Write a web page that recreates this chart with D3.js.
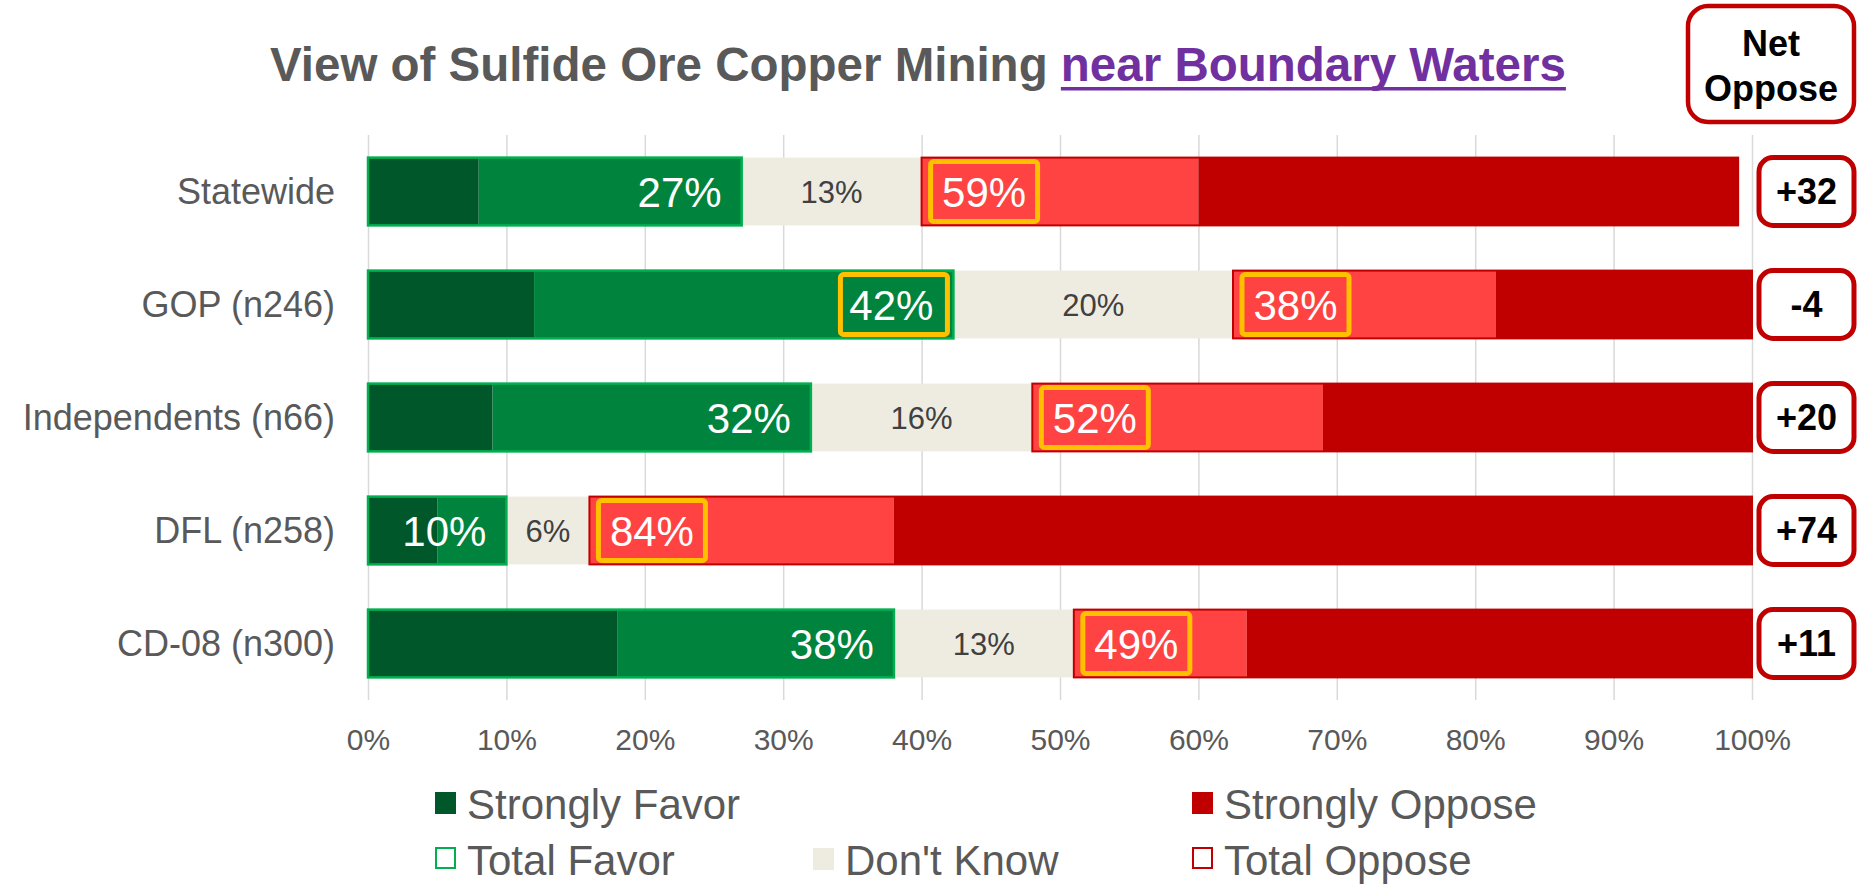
<!DOCTYPE html>
<html>
<head>
<meta charset="utf-8">
<script src="https://cdn.jsdelivr.net/npm/d3@7"></script>
<style>
  html, body { margin: 0; padding: 0; background: #fff; }
  svg { display: block; font-family: "Liberation Sans", Arial, sans-serif; }
</style>
</head>
<body>
<svg id="chart" width="1858" height="885"></svg>
<script>
// ---------------- DATA ----------------
const categories = ["Statewide", "GOP (n246)", "Independents (n66)", "DFL (n258)", "CD-08 (n300)"];
const stronglyFavor  = [8, 12, 9, 5, 18];
const somewhatFavor  = [19, 30.3, 23, 5, 20];
const dontKnow       = [13, 20.2, 16, 6, 13];
const somewhatOppose = [20, 19, 21, 22, 12.5];
const stronglyOppose = [39, 18.5, 31, 62, 36.5];
const highlightFavor  = [false, true, false, false, false];
const highlightOppose = [true, true, true, true, true];
const tickValues = [0, 10, 20, 30, 40, 50, 60, 70, 80, 90, 100];
const legendLabels = ["Strongly Favor", "Strongly Oppose", "Total Favor", "Don't Know", "Total Oppose"];
const titleMain = "View of Sulfide Ore Copper Mining ";
const titleLink = "near Boundary Waters";
const netHeader = ["Net", "Oppose"];

// ---------------- STYLE ----------------
const C = {
  sf: "#00582A", smf: "#00843D", favLine: "#00B050",
  dk: "#EEECE1", smo: "#FF4343", so: "#C00000", oppLine: "#C00000",
  grid: "#D9D9D9", text: "#595959", dkText: "#404040", yellow: "#FFC000",
  purple: "#7030A0"
};

const svg = d3.select("#chart");
const x = d3.scaleLinear().domain([0, 100]).range([368, 1752]);
const y = d3.scaleBand().domain(categories).range([135, 700]).paddingInner(0.4).paddingOuter(0.2);
const bw = y.bandwidth();

// rows
const rows = categories.map((c, i) => {
  const sf = stronglyFavor[i], smf = somewhatFavor[i], dk = dontKnow[i], smo = somewhatOppose[i], so = stronglyOppose[i];
  return {
    cat: c, i,
    segs: [
      {k: "sf", x0: 0, x1: sf},
      {k: "smf", x0: sf, x1: sf + smf},
      {k: "dk", x0: sf + smf, x1: sf + smf + dk},
      {k: "smo", x0: sf + smf + dk, x1: sf + smf + dk + smo},
      {k: "so", x0: sf + smf + dk + smo, x1: sf + smf + dk + smo + so}
    ],
    fav: sf + smf, dk, oppStart: sf + smf + dk, opp: smo + so
  };
});

// gridlines
svg.append("g")
  .attr("transform", "translate(0,700)")
  .call(d3.axisBottom(x).tickValues(tickValues).tickSize(-565).tickFormat(""))
  .call(g => g.select(".domain").remove())
  .call(g => g.selectAll("line").attr("stroke", C.grid).attr("stroke-width", 1.5));

// axis labels
svg.append("g")
  .attr("transform", "translate(0,700)")
  .call(d3.axisBottom(x).tickValues(tickValues).tickSize(0).tickPadding(29).tickFormat(d => d + "%"))
  .call(g => g.select(".domain").remove())
  .call(g => g.selectAll("text").attr("fill", C.text).style("font-size", "30px")
      .style("font-family", "'Liberation Sans', Arial, sans-serif"));

// category labels
svg.append("g").selectAll("text").data(rows).join("text")
  .attr("x", 335).attr("y", d => y(d.cat) + bw / 2).attr("dy", "0.36em")
  .attr("text-anchor", "end").attr("fill", C.text).style("font-size", "36px")
  .text(d => d.cat);

// segments
const colorMap = {sf: C.sf, smf: C.smf, dk: C.dk, smo: C.smo, so: C.so};
const rowG = svg.append("g").selectAll("g").data(rows).join("g");
rowG.selectAll("rect.seg").data(d => d.segs.map(s => ({...s, cat: d.cat}))).join("rect")
  .attr("class", "seg")
  .attr("x", s => x(s.x0)).attr("width", s => x(s.x1) - x(s.x0))
  .attr("y", s => y(s.cat)).attr("height", bw)
  .attr("fill", s => colorMap[s.k]);

// total favor outline
rowG.append("rect")
  .attr("x", d => x(0)).attr("width", d => x(d.fav) - x(0))
  .attr("y", d => y(d.cat)).attr("height", bw)
  .attr("fill", "none").attr("stroke", C.favLine).attr("stroke-width", 2.5);
// total oppose outline
rowG.append("rect")
  .attr("x", d => x(d.oppStart)).attr("width", d => x(d.oppStart + d.opp) - x(d.oppStart))
  .attr("y", d => y(d.cat)).attr("height", bw)
  .attr("fill", "none").attr("stroke", C.oppLine).attr("stroke-width", 2);

// favor highlight boxes
rowG.filter(d => highlightFavor[d.i]).append("rect")
  .attr("x", d => x(d.fav) - 6 - 107).attr("width", 107)
  .attr("y", d => y(d.cat) + 4).attr("height", bw - 8)
  .attr("rx", 3).attr("fill", "none").attr("stroke", C.yellow).attr("stroke-width", 5);
// favor labels
rowG.append("text")
  .attr("x", d => x(d.fav) - 20).attr("y", d => y(d.cat) + bw / 2).attr("dy", "0.36em")
  .attr("text-anchor", "end").attr("fill", "#fff").style("font-size", "42px")
  .text(d => Math.round(d.fav) + "%");

// don't know labels
rowG.append("text")
  .attr("x", d => x(d.fav + d.dk / 2)).attr("y", d => y(d.cat) + bw / 2).attr("dy", "0.36em")
  .attr("text-anchor", "middle").attr("fill", C.dkText).style("font-size", "31px")
  .text(d => Math.round(d.dk) + "%");

// oppose highlight boxes + labels
rowG.filter(d => highlightOppose[d.i]).append("rect")
  .attr("x", d => x(d.oppStart) + 9).attr("width", 107)
  .attr("y", d => y(d.cat) + 4).attr("height", bw - 8)
  .attr("rx", 3).attr("fill", "none").attr("stroke", C.yellow).attr("stroke-width", 5);
rowG.append("text")
  .attr("x", d => x(d.oppStart) + 9 + 53.5).attr("y", d => y(d.cat) + bw / 2).attr("dy", "0.36em")
  .attr("text-anchor", "middle").attr("fill", "#fff").style("font-size", "42px")
  .text(d => Math.round(d.opp) + "%");

// net oppose boxes
const netG = svg.append("g").selectAll("g").data(rows).join("g");
netG.append("rect")
  .attr("x", 1759).attr("width", 95)
  .attr("y", d => y(d.cat)).attr("height", bw)
  .attr("rx", 14).attr("fill", "#fff").attr("stroke", C.so).attr("stroke-width", 5);
netG.append("text")
  .attr("x", 1806.5).attr("y", d => y(d.cat) + bw / 2).attr("dy", "0.36em")
  .attr("text-anchor", "middle").attr("fill", "#000").style("font-size", "36px").style("font-weight", "bold")
  .text(d => {
    const n = Math.round(d.opp) - Math.round(d.fav);
    return (n > 0 ? "+" : "") + n;
  });

// header box
svg.append("rect").attr("x", 1688).attr("y", 6).attr("width", 166).attr("height", 116)
  .attr("rx", 20).attr("fill", "#fff").attr("stroke", C.so).attr("stroke-width", 4.5);
svg.append("g").selectAll("text").data(netHeader).join("text")
  .attr("x", 1771).attr("y", (d, i) => 56 + i * 45)
  .attr("text-anchor", "middle").attr("fill", "#000")
  .style("font-size", "36px").style("font-weight", "bold")
  .text(d => d);

// title
const t1 = svg.append("text").attr("x", 270).attr("y", 81)
  .attr("fill", C.text).style("font-size", "47.5px").style("font-weight", "bold")
  .style("white-space", "pre").attr("xml:space", "preserve")
  .text(titleMain);
const w1 = t1.node().getComputedTextLength();
const t2 = svg.append("text").attr("x", 270 + w1).attr("y", 81)
  .attr("fill", C.purple).style("font-size", "47.5px").style("font-weight", "bold")
  .text(titleLink);
const w2 = t2.node().getComputedTextLength();
svg.append("rect").attr("x", 270 + w1).attr("y", 87).attr("width", w2).attr("height", 3.5)
  .attr("fill", C.purple);

// legend
const legendItems = [
  {label: legendLabels[0], x: 435, row: 0, fill: C.sf, stroke: "none"},
  {label: legendLabels[1], x: 1192, row: 0, fill: C.so, stroke: "none"},
  {label: legendLabels[2], x: 435, row: 1, fill: "#fff", stroke: C.favLine},
  {label: legendLabels[3], x: 813, row: 1, fill: C.dk, stroke: "none"},
  {label: legendLabels[4], x: 1192, row: 1, fill: "#fff", stroke: C.oppLine}
];
const lg = svg.append("g").selectAll("g").data(legendItems).join("g")
  .attr("transform", d => `translate(${d.x},${819 + d.row * 56})`);
lg.append("rect").attr("x", d => d.stroke === "none" ? 0 : 1).attr("y", -27)
  .attr("width", d => d.stroke === "none" ? 21 : 19).attr("height", d => d.stroke === "none" ? 22 : 20)
  .attr("fill", d => d.fill).attr("stroke", d => d.stroke).attr("stroke-width", 2);
lg.append("text").attr("x", 32).attr("y", 0)
  .attr("fill", C.text).style("font-size", "42px").text(d => d.label);
</script>
</body>
</html>
